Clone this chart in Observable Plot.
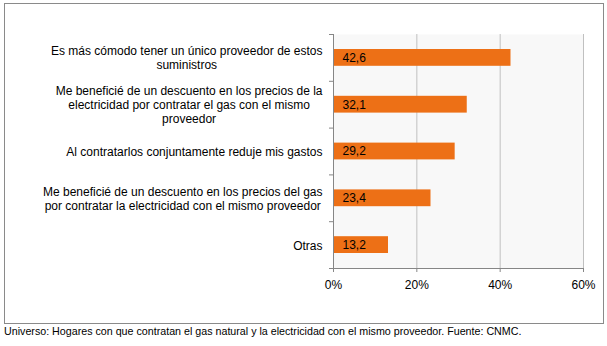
<!DOCTYPE html>
<html><head><meta charset="utf-8">
<script src="https://cdn.jsdelivr.net/npm/d3@7"></script>
<script src="https://cdn.jsdelivr.net/npm/@observablehq/plot@0.6"></script>
<style>
body{margin:0;background:#fff;font-family:"Liberation Sans",Arial,sans-serif;}
#wrap{position:relative;width:607px;height:346px;overflow:hidden;}
#frame{position:absolute;left:4px;top:3px;width:598px;height:319px;border:1px solid #8a8a8a;}
#chart{position:absolute;left:0;top:0;}
#caption{position:absolute;left:4px;top:325px;font-size:10.7px;color:#000;white-space:nowrap;}
</style></head>
<body>
<div id="wrap"><div id="frame"></div><div id="chart"></div>
<div id="caption">Universo: Hogares con que contratan el gas natural y la electricidad con el mismo proveedor. Fuente: CNMC.</div></div>
<script>
const categories = [
  "Es más cómodo tener un único proveedor de estos\nsuministros",
  "Me beneficié de un descuento en los precios de la\nelectricidad por contratar el gas con el mismo\nproveedor",
  "Al contratarlos conjuntamente reduje mis gastos",
  "Me beneficié de un descuento en los precios del gas\npor contratar la electricidad con el mismo proveedor",
  "Otras"
];
const values = [42.6, 32.1, 29.2, 23.4, 13.2];
const xTicks = [0, 20, 40, 60];

const rows = categories.map((c, i) => ({label: c, value: values[i], i}));
const n = categories.length;
const gray = "#868686";

const chart = Plot.plot({
  width: 607,
  height: 324,
  marginLeft: 333,
  marginRight: 24,
  marginTop: 34,
  marginBottom: 56,
  style: {fontFamily: "'Liberation Sans', Arial, sans-serif", fontSize: "12px", color: "#000", background: "transparent"},
  x: {domain: [0, 60]},
  y: {domain: [0, n], reverse: true},
  marks: [
    Plot.frame({fill: "#f8f8f8", stroke: null}),
    Plot.gridX(xTicks.slice(1), {stroke: "#c0c0c0", strokeOpacity: 1}),
    Plot.rectX(rows, {x1: 0, x2: "value", y1: "i", y2: d => d.i + 1, insetTop: 15, insetBottom: 15, fill: "#ed7016"}),
    Plot.ruleX([0], {stroke: gray}),
    Plot.ruleY([n], {stroke: gray}),
    Plot.axisX({ticks: xTicks, tickFormat: d => d + "%", tickSize: 4, tickPadding: 8, stroke: gray, fill: "#000", fontSize: 12, label: null}),
    Plot.axisY({ticks: d3.range(0, n + 1), tickSize: 4, tickFormat: () => "", stroke: gray, label: null}),
    Plot.text(rows, {x: 0, y: d => d.i + 0.5, text: "label", textAnchor: "end", dx: -11, lineHeight: 1.15, fill: "#000", fontSize: 12, className: "catlab"}),
    Plot.text(rows, {x: 0, y: d => d.i + 0.5, text: d => d.value.toFixed(1).replace(".", ","), textAnchor: "start", dx: 9, fill: "#000", fontSize: 12})
  ]
});
document.getElementById("chart").appendChild(chart);

// center multi-line category labels on their longest line
chart.querySelectorAll("g.catlab text").forEach(t => {
  const spans = t.querySelectorAll("tspan");
  if (spans.length < 2) return;
  let w = 0;
  spans.forEach(s => { w = Math.max(w, s.getComputedTextLength()); });
  t.setAttribute("text-anchor", "middle");
  spans.forEach(s => s.setAttribute("x", -w / 2));
});
</script>
</body></html>
